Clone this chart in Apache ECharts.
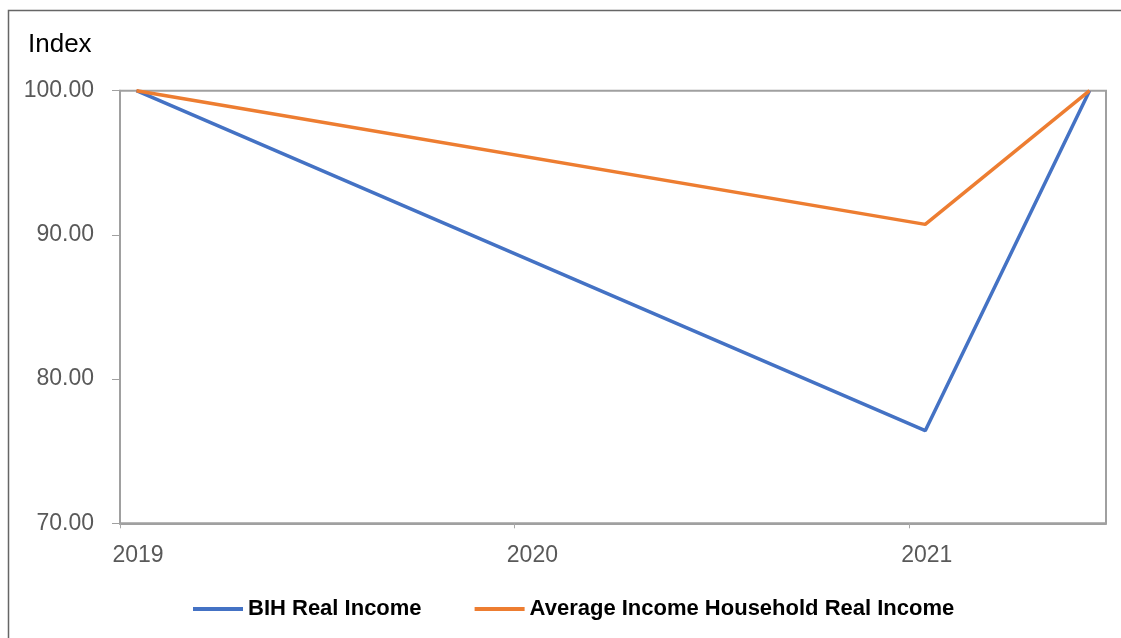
<!DOCTYPE html>
<html>
<head>
<meta charset="utf-8">
<script src="https://cdn.jsdelivr.net/npm/echarts@6/dist/echarts.min.js"></script>
<style>
  html, body { margin: 0; padding: 0; background: #fff; }
  #chart { width: 1121px; height: 638px; }
</style>
</head>
<body>
<div id="chart"></div>
<script>
// Observation months (each point sits in the middle of its month)
const periods = ['2019-01', '2021-01', '2021-06'];
const bihRealIncome = [100.00, 76.42, 100.00];
const avgHouseholdRealIncome = [100.00, 90.73, 100.00];
const yearLabels = ['2019', '2020', '2021'];
const seriesNames = ['BIH Real Income', 'Average Income Household Real Income'];

// Months elapsed since January of the first year, centred in the month
const baseYear = 2019;
function monthPos(p) {
  const [y, m] = p.split('-').map(Number);
  return (y - baseYear) * 12 + (m - 1) + 0.5;
}
const xs = periods.map(monthPos);
const yearTicks = yearLabels.map((_, i) => i * 12);

const chart = echarts.init(document.getElementById('chart'), null, { renderer: 'canvas' });

const axisGray = '#a0a0a0';
const labelGray = '#595959';

chart.setOption({
  animation: false,
  backgroundColor: '#fff',
  title: {
    text: 'Index',
    left: 23,
    top: 27,
    textStyle: { fontFamily: 'Liberation Sans', fontSize: 26, fontWeight: 'normal', color: '#000' }
  },
  graphic: [{
    type: 'polyline',
    shape: { points: [[8.5, 640], [8.5, 10.5], [1125, 10.5]] },
    style: { stroke: '#666', lineWidth: 1.5, fill: null },
    silent: true
  }],
  legend: {
    left: 188,
    top: 593,
    icon: 'rect',
    itemWidth: 50,
    itemHeight: 4,
    itemGap: 53,
    textStyle: { fontFamily: 'Liberation Sans', fontSize: 22, fontWeight: 'bold', color: '#000' },
    data: seriesNames
  },
  grid: {
    left: 120,
    right: 15,
    top: 90.7,
    bottom: 114.7,
    show: true,
    borderColor: axisGray,
    borderWidth: 2,
    backgroundColor: 'transparent'
  },
  xAxis: {
    type: 'value',
    min: 0,
    max: 30,
    interval: 12,
    splitLine: { show: false },
    axisLine: { show: true, onZero: false, lineStyle: { color: axisGray, width: 2 } },
    axisTick: { show: true, length: 5, customValues: yearTicks, lineStyle: { color: '#a8a8a8', width: 1 } },
    axisLabel: {
      customValues: yearTicks,
      formatter: v => yearLabels[Math.round(v / 12)] || '',
      fontFamily: 'Liberation Sans',
      fontSize: 23,
      color: labelGray,
      margin: 21,
      padding: [0, 0, 0, 36]
    }
  },
  yAxis: {
    type: 'value',
    min: 70,
    max: 100,
    interval: 10,
    splitLine: { show: false },
    axisLine: { show: true, lineStyle: { color: axisGray, width: 2 } },
    axisTick: { show: true, inside: false, length: 8, lineStyle: { color: axisGray, width: 1 } },
    axisLabel: {
      formatter: v => v.toFixed(2),
      fontFamily: 'Liberation Sans',
      fontSize: 23,
      color: labelGray,
      margin: 26
    }
  },
  series: [
    {
      name: seriesNames[0],
      type: 'line',
      data: xs.map((x, i) => [x, bihRealIncome[i]]),
      showSymbol: false,
      symbol: 'none',
      color: '#4472C4',
      lineStyle: { color: '#4472C4', width: 3.5 }
    },
    {
      name: seriesNames[1],
      type: 'line',
      data: xs.map((x, i) => [x, avgHouseholdRealIncome[i]]),
      showSymbol: false,
      symbol: 'none',
      color: '#ED7D31',
      lineStyle: { color: '#ED7D31', width: 3.5 }
    }
  ]
});
</script>
</body>
</html>
